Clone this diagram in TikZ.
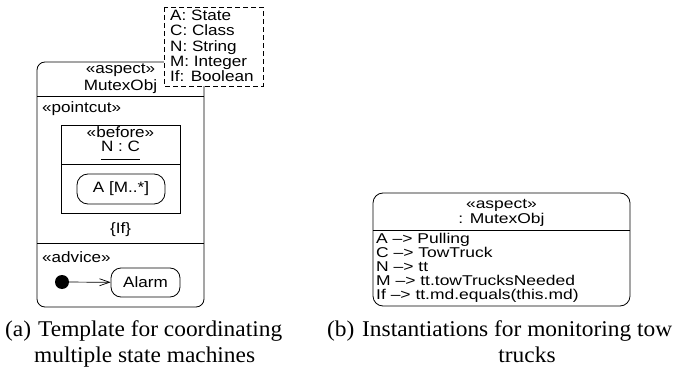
\documentclass[tikz,border=0pt]{standalone}
\usepackage{fontspec}
\usetikzlibrary{arrows.meta}
\newfontfamily\umlfont[FakeStretch=1.14]{Liberation Sans}
\newfontfamily\umlwidefont[FakeStretch=1.23]{Liberation Sans}
\newfontfamily\capfont[FakeStretch=1.04]{Liberation Serif}
\tikzset{
  uml/.style={inner sep=0pt, font=\umlfont\fontsize{15}{15}\selectfont},
  umlr/.style={inner sep=0pt, font=\umlwidefont\fontsize{14.2}{14}\selectfont},
  captext/.style={inner sep=0pt, font=\capfont\fontsize{22.5}{26}\selectfont},
  frame/.style={line width=0.8pt},
  statebox/.style={draw, line width=0.8pt, rounded corners=11pt, inner sep=0pt},
  paramlist/.style={draw, line width=0.8pt, dash pattern=on 5pt off 3pt, fill=white},
  initial/.style={circle, fill=black, inner sep=0pt, minimum size=14pt},
}
\begin{document}
\begin{tikzpicture}[x=1pt, y=-1pt]
\useasboundingbox (0,0) rectangle (679,374);

% ---- aspect template MutexObj ----
\draw[frame, rounded corners=8pt] (37,62) rectangle (204,307);
\draw[frame] (37,96) -- (204,96);
\draw[frame] (37,243) -- (204,243);
\node[uml, anchor=base] (tstereo) at (120.5,74) {«aspect»};
\node[uml, anchor=base] (tname) at (120.5,90.5) {MutexObj};

% template parameters
\draw[paramlist] (164,7) rectangle (263,86);
\node[uml, anchor=base west] (pA) at (170,20.7) {A: State};
\node[uml, anchor=base west] (pC) at (170,36) {C: Class};
\node[uml, anchor=base west] (pN) at (170,51.2) {N: String};
\node[uml, anchor=base west] (pM) at (170,66.5) {M: Integer};
\node[uml, anchor=base west] (pIf) at (170,81.7) {If: Boolean};

% pointcut compartment
\node[uml, anchor=base west] (pointcut) at (42,113) {«pointcut»};
\draw[frame] (61,125) rectangle (180,213);
\draw[frame] (61,164) -- (180,164);
\node[uml, anchor=base] (before) at (120.5,138) {«before»};
\node[uml, anchor=base] (nc) at (120.5,152) {N : C};
\draw[line width=0.7pt] ([yshift=-7pt]nc.base west) -- ([yshift=-7pt]nc.base east);
\node[statebox, uml, minimum width=88pt, minimum height=30pt] (stA) at (121,189) {A [M..*]};
\node[uml, anchor=base] (guard) at (120.5,233) {\{If\}};

% advice compartment
\node[uml, anchor=base west] (advice) at (42,262) {«advice»};
\node[initial] (init) at (62,282) {};
\node[statebox, uml, rounded corners=10pt, minimum width=69pt, minimum height=29pt] (alarm) at (145.5,282.5) {Alarm};
\draw[line width=0.7pt, -{Straight Barb[length=10pt,width=7pt]}] (init) -- (alarm);

% ---- instantiated aspect ----
\draw[frame, rounded corners=10pt] (373,193) rectangle (630,306);
\draw[frame] (373,230) -- (630,230);
\node[umlr, anchor=base] (istereo) at (501.5,208) {«aspect»};
\node[umlr, anchor=base] (iname) at (501.5,223) {: MutexObj};
\node[umlr, anchor=base west] (bA) at (376,243) {A –> Pulling};
\node[umlr, anchor=base west] (bC) at (376,257) {C –> TowTruck};
\node[umlr, anchor=base west] (bN) at (376,271) {N –> tt};
\node[umlr, anchor=base west] (bM) at (376,285) {M –> tt.towTrucksNeeded};
\node[umlr, anchor=base west] (bIf) at (376,299) {If –> tt.md.equals(this.md)};

% ---- captions ----
\node[captext, anchor=base west] (capa) at (5,336) {(a)};
\node[captext, anchor=base west] (capa1) at (38,336) {Template for coordinating};
\node[captext, anchor=base west] (capa2) at (34,362) {multiple state machines};
\node[captext, anchor=base west] (capb) at (327,336) {(b)};
\node[captext, anchor=base west] (capb1) at (362,336) {Instantiations for monitoring tow};
\node[captext, anchor=base] (capb2) at (527,362) {trucks};
\end{tikzpicture}
\end{document}
